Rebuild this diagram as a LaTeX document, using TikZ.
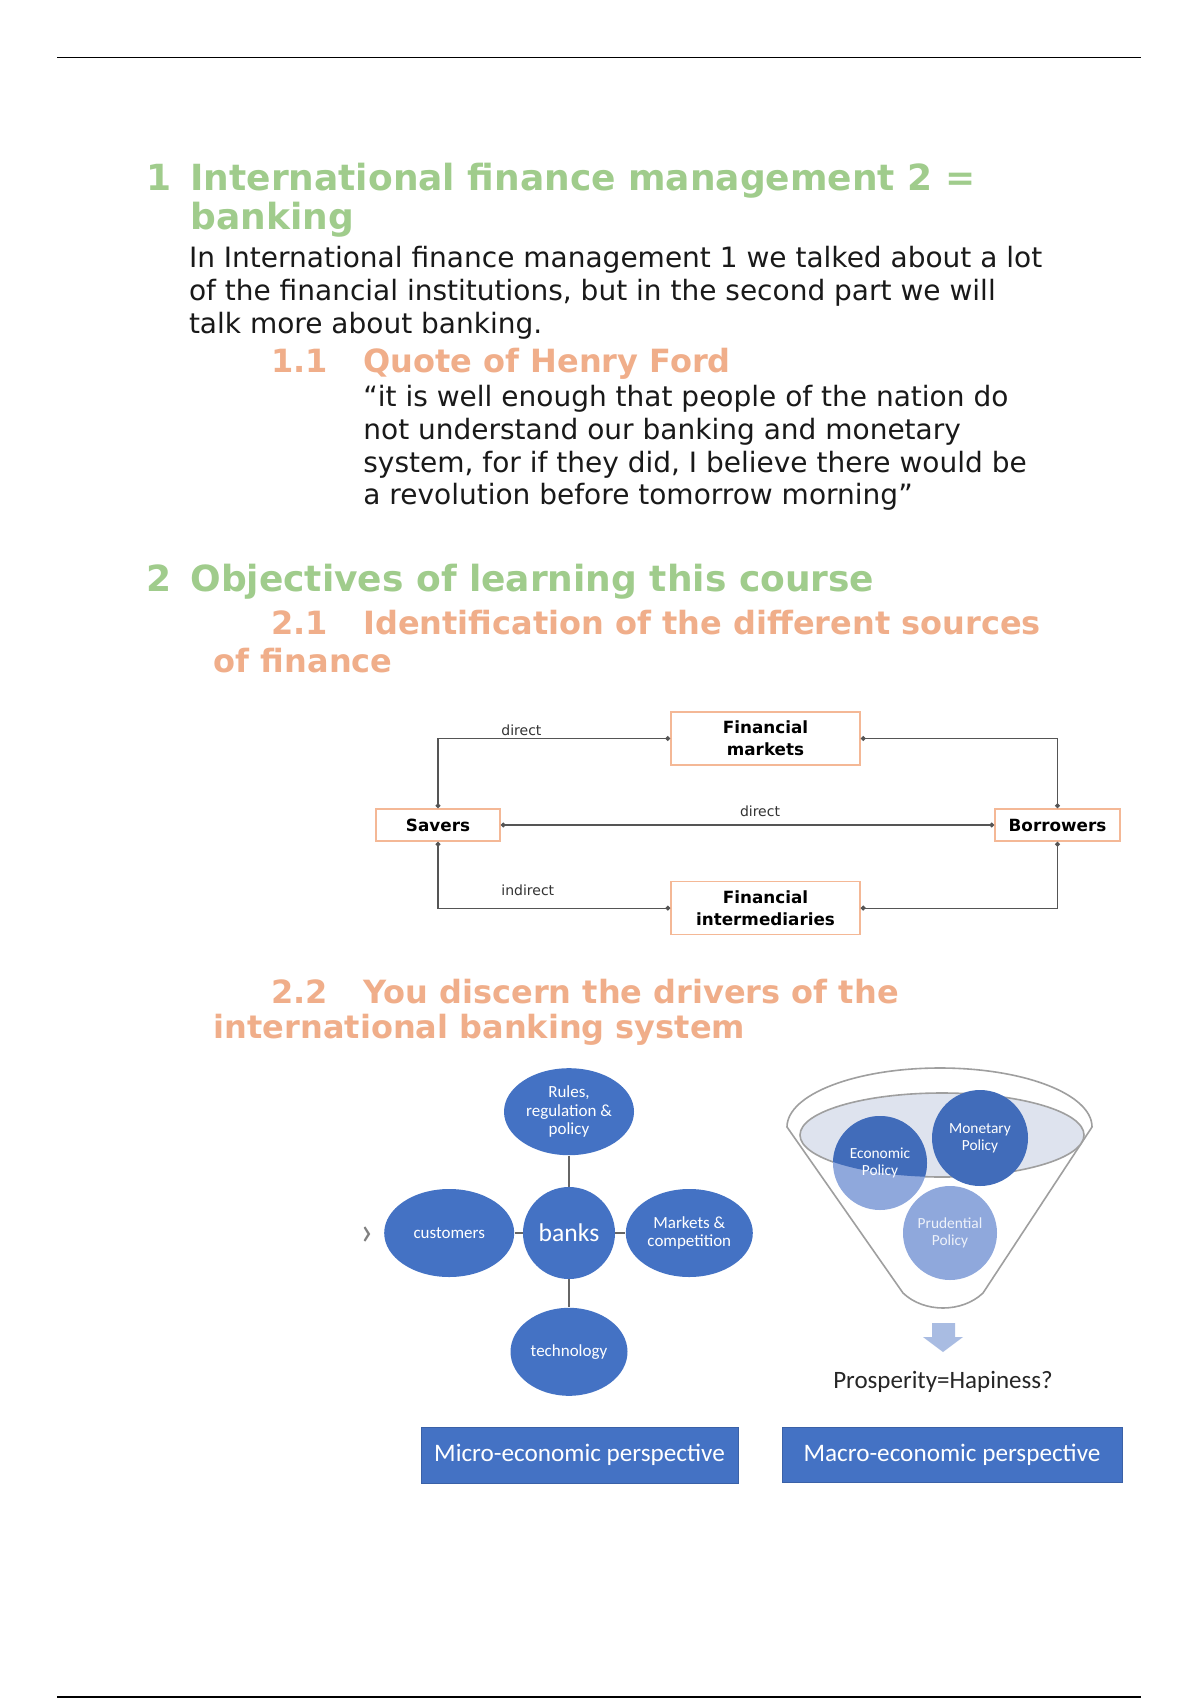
\documentclass[tikz,border=0pt]{standalone}
\usepackage{fontspec}
\setmainfont{DejaVu Sans}
\newfontfamily\calib{Carlito}
\usetikzlibrary{arrows.meta,positioning,shapes.geometric}
\definecolor{headgreen}{RGB}{160,204,140}
\definecolor{headorange}{RGB}{240,174,138}
\definecolor{boxline}{RGB}{244,184,150}
\definecolor{linkgray}{RGB}{85,85,85}
\definecolor{officeblue}{RGB}{68,114,196}
\definecolor{paleblue}{RGB}{143,168,220}
\definecolor{mistblue}{RGB}{222,227,238}
\definecolor{arrowblue}{RGB}{169,188,226}
\begin{document}
\begin{tikzpicture}[x=0.5pt,y=-0.5pt,
    h/.style={anchor=base west,inner sep=0pt,align=left,text=headgreen,
      font=\bfseries\fontsize{18}{19.5}\selectfont},
    hh/.style={anchor=base west,inner sep=0pt,align=left,text=headorange,
      font=\bfseries\fontsize{16}{17.5}\selectfont},
    txt/.style={anchor=base west,inner sep=0pt,align=left,text=black!90,
      font=\fontsize{14}{16.4}\selectfont},
    src/.style={rectangle,draw=boxline,line width=0.8pt,fill=white,align=center,
      inner sep=0pt,font=\bfseries\fontsize{8.4}{10.8}\selectfont},
    lbl/.style={inner sep=0pt,text=black!80,font=\fontsize{7}{8}\selectfont},
    link/.style={draw=linkgray,line width=0.6pt,{Circle[length=2.4pt]}-{Circle[length=2.4pt]}},
    drv/.style={ellipse,fill=officeblue,text=white,align=center,inner sep=0pt,
      font=\calib\fontsize{8.5}{9.2}\selectfont},
    spoke/.style={draw=gray!80!black,line width=0.8pt},
    pol/.style={circle,minimum size=47pt,inner sep=0pt,align=center,
      font=\calib\fontsize{7.7}{8.7}\selectfont},
    persp/.style={rectangle,fill=officeblue,draw=officeblue!85!black,line width=0.5pt,
      text=white,inner sep=0pt,font=\calib\fontsize{12.6}{14}\selectfont}]
  \useasboundingbox (0,0) rectangle (1200,1700);
  \fill[white] (0,0) rectangle (1200,1700);
  % page rules
  \draw[line width=0.8pt] (57,57.5) -- (1141,57.5);
  \draw[line width=0.8pt] (57,1697) -- (1141,1697);

  % text (multi-line nodes sit on their last baseline)
  \node[h] (h1num) at (146,191) {1};
  \node[h] (h1) at (190,230) {International finance management 2 =\\banking};
  \node[txt] (intro) at (188.6,333.6) {In International finance management 1 we talked about a lot\\
    of the financial institutions, but in the second part we will\\talk more about banking.};
  \node[hh] (h11num) at (271,373) {1.1};
  \node[hh] (h11) at (363,373) {Quote of Henry Ford};
  \node[txt] (quote) at (363,504.9) {“it is well enough that people of the nation do\\
    not understand our banking and monetary\\system, for if they did, I believe there would be\\
    a revolution before tomorrow morning”};
  \node[h] (h2num) at (146,591) {2};
  \node[h] (h2) at (190,591) {Objectives of learning this course};
  \node[hh] (h21num) at (271,634) {2.1};
  \node[hh] (h21) at (363,634) {Identification of the different sources};
  \node[hh] (h21b) at (213.5,672) {of finance};
  \node[hh] (h22num) at (271,1003) {2.2};
  \node[hh] (h22) at (363,1003) {You discern the drivers of the};
  \node[hh] (h22b) at (213.5,1038.5) {international banking system};

  % sources of finance
  \node[src,minimum width=94.5pt,minimum height=26.5pt] (fm) at (765.5,738.5) {Financial\\markets};
  \node[src,minimum width=94.5pt,minimum height=26.5pt,below=57.5pt of fm] (fi) {Financial\\intermediaries};
  \node[src,minimum width=62pt,minimum height=16pt] (savers) at (438,825) {Savers};
  \node[src,minimum width=62.5pt,minimum height=16pt] (borrowers) at (1057.5,825) {Borrowers};
  \draw[link] (savers.north) |- (fm.west);
  \draw[link] (fm.east) -| (borrowers.north);
  \draw[link] (savers.east) -- (borrowers.west);
  \draw[link] (savers.south) |- (fi.west);
  \draw[link] (fi.east) -| (borrowers.south);
  \node[lbl,anchor=west] (ldirecttop) at (501,730) {direct};
  \node[lbl] (ldirectmid) at (760,811) {direct};
  \node[lbl,anchor=west] (lindirect) at (501,890) {indirect};

  % micro drivers
  \node[drv,circle,minimum width=45pt,minimum height=46pt,font=\calib\fontsize{12.8}{14}\selectfont] (banks) at (569,1233) {banks};
  \node[drv,minimum width=65pt,minimum height=43.5pt,above=15.5pt of banks] (rules) {Rules,\\regulation \&\\policy};
  \node[drv,minimum width=65pt,minimum height=44pt,left=4pt of banks] (cust) {customers};
  \node[drv,minimum width=63.5pt,minimum height=44pt,right=5pt of banks] (mkt) {Markets \&\\competition};
  \node[drv,minimum width=58.5pt,minimum height=44pt,below=14pt of banks] (tech) {technology};
  \draw[spoke] (rules) -- (banks);
  \draw[spoke] (banks) -- (tech);
  \draw[spoke] (cust) -- (banks);
  \draw[spoke] (banks) -- (mkt);
  \node[text=gray,inner sep=0pt,font=\calib\fontsize{20}{20}\selectfont] (more) at (367,1236) {›};
  \node[persp,minimum width=158.5pt,minimum height=28pt] (micro) at (579.5,1455) {Micro-economic perspective};

  % macro funnel
  \draw[draw=gray!75,line width=0.8pt] (787,1127) .. controls (787,1094.4) and (855.5,1068) .. (940,1068)
    .. controls (1024.5,1068) and (1092,1094.4) .. (1092,1127) -- (983,1293)
    .. controls (962,1313) and (924,1313) .. (903,1293) -- cycle;
  \draw[draw=gray!75,fill=mistblue,line width=0.8pt] (942,1135) ellipse [x radius=142, y radius=42];
  \fill[paleblue] (880,1163) circle [radius=47];
  \begin{scope}
    \clip (942,1135) ellipse [x radius=142, y radius=42];
    \fill[officeblue!95!black] (880,1163) circle [radius=47];
  \end{scope}
  \node[pol,text=white] (econ) at (880,1163) {Economic\\Policy};
  \node[pol,fill=officeblue!95!black,text=white,minimum size=48pt] (mon) at (980,1138) {Monetary\\Policy};
  \node[pol,fill=paleblue,text=white!85!paleblue] (prud) at (950,1233) {Prudential\\Policy};
  \fill[arrowblue] (932,1323) -- (955,1323) -- (955,1337) -- (963,1337) -- (943,1352)
    -- (923,1337) -- (932,1337) -- cycle;
  \node[inner sep=0pt,text=black!85,font=\calib\fontsize{12.5}{14}\selectfont] (prosp) at (943,1382) {Prosperity=Hapiness?};
  \node[persp,minimum width=170pt,minimum height=27.5pt] (macro) at (952,1454.5) {Macro-economic perspective};
\end{tikzpicture}
\end{document}
